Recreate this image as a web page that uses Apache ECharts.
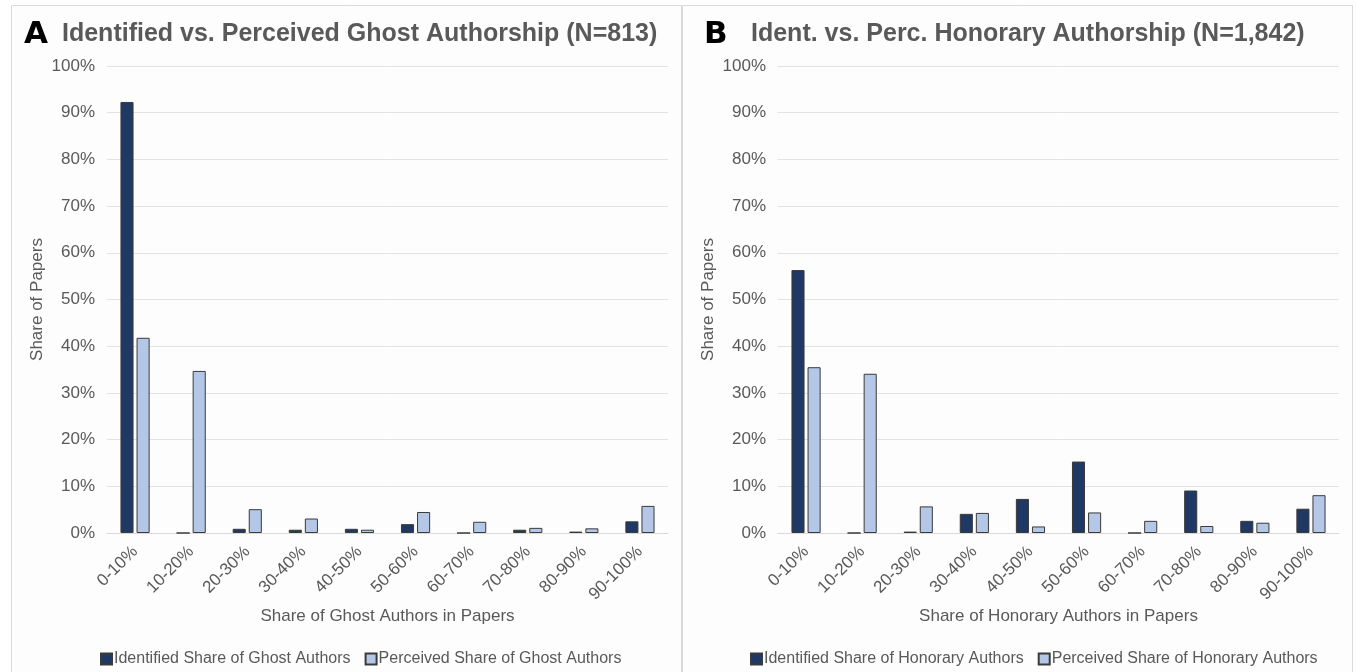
<!DOCTYPE html>
<html>
<head>
<meta charset="utf-8">
<script src="https://cdn.jsdelivr.net/npm/echarts@6/dist/echarts.min.js"></script>
<style>
  html, body { margin: 0; padding: 0; background: #ffffff; }
  #chart { width: 1356px; height: 672px; }
</style>
</head>
<body>
<div id="chart"></div>
<script>
// categories (same for both panels)
const bins = ["0-10%", "10-20%", "20-30%", "30-40%", "40-50%", "50-60%", "60-70%", "70-80%", "80-90%", "90-100%"];

// panel A: ghost authorship, in %
const ghostIdentified = [92.3, 0, 0.9, 0.7, 0.9, 1.9, 0, 0.7, 0.3, 2.5];
const ghostPerceived = [41.8, 34.7, 5.1, 3.1, 0.7, 4.5, 2.4, 1.1, 1.0, 5.8];

// panel B: honorary authorship, in %
const honoraryIdentified = [56.3, 0, 0.3, 4.1, 7.3, 15.3, 0, 9.1, 2.6, 5.2];
const honoraryPerceived = [35.5, 34.1, 5.7, 4.3, 1.4, 4.4, 2.6, 1.5, 2.2, 8.1];

const yTicks = [0, 10, 20, 30, 40, 50, 60, 70, 80, 90, 100];

const dark = "#203864";
const light = "#b4c7e7";
const txt = "#595959";
const font = "Liberation Sans";

let chart = echarts.init(document.getElementById("chart"));

function xAxis(gridIndex, name) {
  return {
    type: "category",
    gridIndex: gridIndex,
    data: bins,
    name: name,
    nameLocation: "middle",
    nameGap: 75,
    nameMoveOverlap: false,
    nameTextStyle: { color: txt, fontSize: 17, fontFamily: font },
    axisTick: { show: false },
    axisLine: { lineStyle: { color: "#d9d9d9", width: 1 } },
    axisLabel: { rotate: 45, color: txt, fontSize: 17, fontFamily: font, margin: 16, interval: 0 },
  };
}

function yAxis(gridIndex) {
  return {
    type: "value",
    gridIndex: gridIndex,
    min: yTicks[0],
    max: yTicks[yTicks.length - 1],
    interval: 10,
    name: "Share of Papers",
    nameLocation: "middle",
    nameGap: 61,
    nameMoveOverlap: false,
    nameTextStyle: { color: txt, fontSize: 17, fontFamily: font },
    axisLine: { show: false },
    axisTick: { show: false },
    axisLabel: { color: txt, fontSize: 17, fontFamily: font, margin: 12, formatter: "{value}%" },
    splitLine: { lineStyle: { color: "#e3e3e3", width: 1 } },
  };
}

function bar(name, data, color, idx) {
  return {
    name: name,
    type: "bar",
    xAxisIndex: idx,
    yAxisIndex: idx,
    data: data,
    barGap: "23%",
    barCategoryGap: "48%",
    itemStyle: { color: color, borderColor: "#3a3a3a", borderWidth: 1 },
  };
}

function titleRich(letter, text, left, gap) {
  return {
    left: left,
    top: 14,
    text: "{l|" + letter + "}{t|" + text + "}",
    textStyle: {
      rich: {
        l: { fontSize: 31, fontWeight: "bold", color: "#000", fontFamily: "DejaVu Sans", width: gap },
        t: { fontSize: 25, fontWeight: "bold", color: txt, fontFamily: font },
      },
    },
  };
}

function legend(items, left) {
  return {
    left: left,
    top: 646,
    data: items,
    icon: "rect",
    itemWidth: 11,
    itemHeight: 11,
    itemGap: 14,
    textStyle: { color: txt, fontSize: 16, fontFamily: font, padding: [0, 0, 0, -3] },
  };
}

let options = {
  backgroundColor: "#ffffff",
  animation: false,
  graphic: [
    { type: "rect", shape: { x: 11.5, y: 5.5, width: 670, height: 680 }, style: { fill: "#fdfdfd", stroke: "#d9d9d9", lineWidth: 1 }, z: -10 },
    { type: "rect", shape: { x: 682.5, y: 5.5, width: 670, height: 680 }, style: { fill: "#fdfdfd", stroke: "#d9d9d9", lineWidth: 1 }, z: -10 },
  ],
  title: [
    titleRich("A", "Identified vs. Perceived Ghost Authorship (N=813)", 19, 38),
    titleRich("B", "Ident. vs. Perc. Honorary Authorship (N=1,842)", 699, 47),
  ],
  legend: [
    legend(["Identified Share of Ghost Authors", "Perceived Share of Ghost Authors"], 95),
    legend(["Identified Share of Honorary Authors", "Perceived Share of Honorary Authors"], 745),
  ],
  grid: [
    { left: 107, right: 688, top: 66, bottom: 139 },
    { left: 778, right: 17, top: 66, bottom: 139 },
  ],
  xAxis: [xAxis(0, "Share of Ghost Authors in Papers"), xAxis(1, "Share of Honorary Authors in Papers")],
  yAxis: [yAxis(0), yAxis(1)],
  series: [
    bar("Identified Share of Ghost Authors", ghostIdentified, dark, 0),
    bar("Perceived Share of Ghost Authors", ghostPerceived, light, 0),
    bar("Identified Share of Honorary Authors", honoraryIdentified, dark, 1),
    bar("Perceived Share of Honorary Authors", honoraryPerceived, light, 1),
  ],
};

chart.setOption(options);
</script>
</body>
</html>
